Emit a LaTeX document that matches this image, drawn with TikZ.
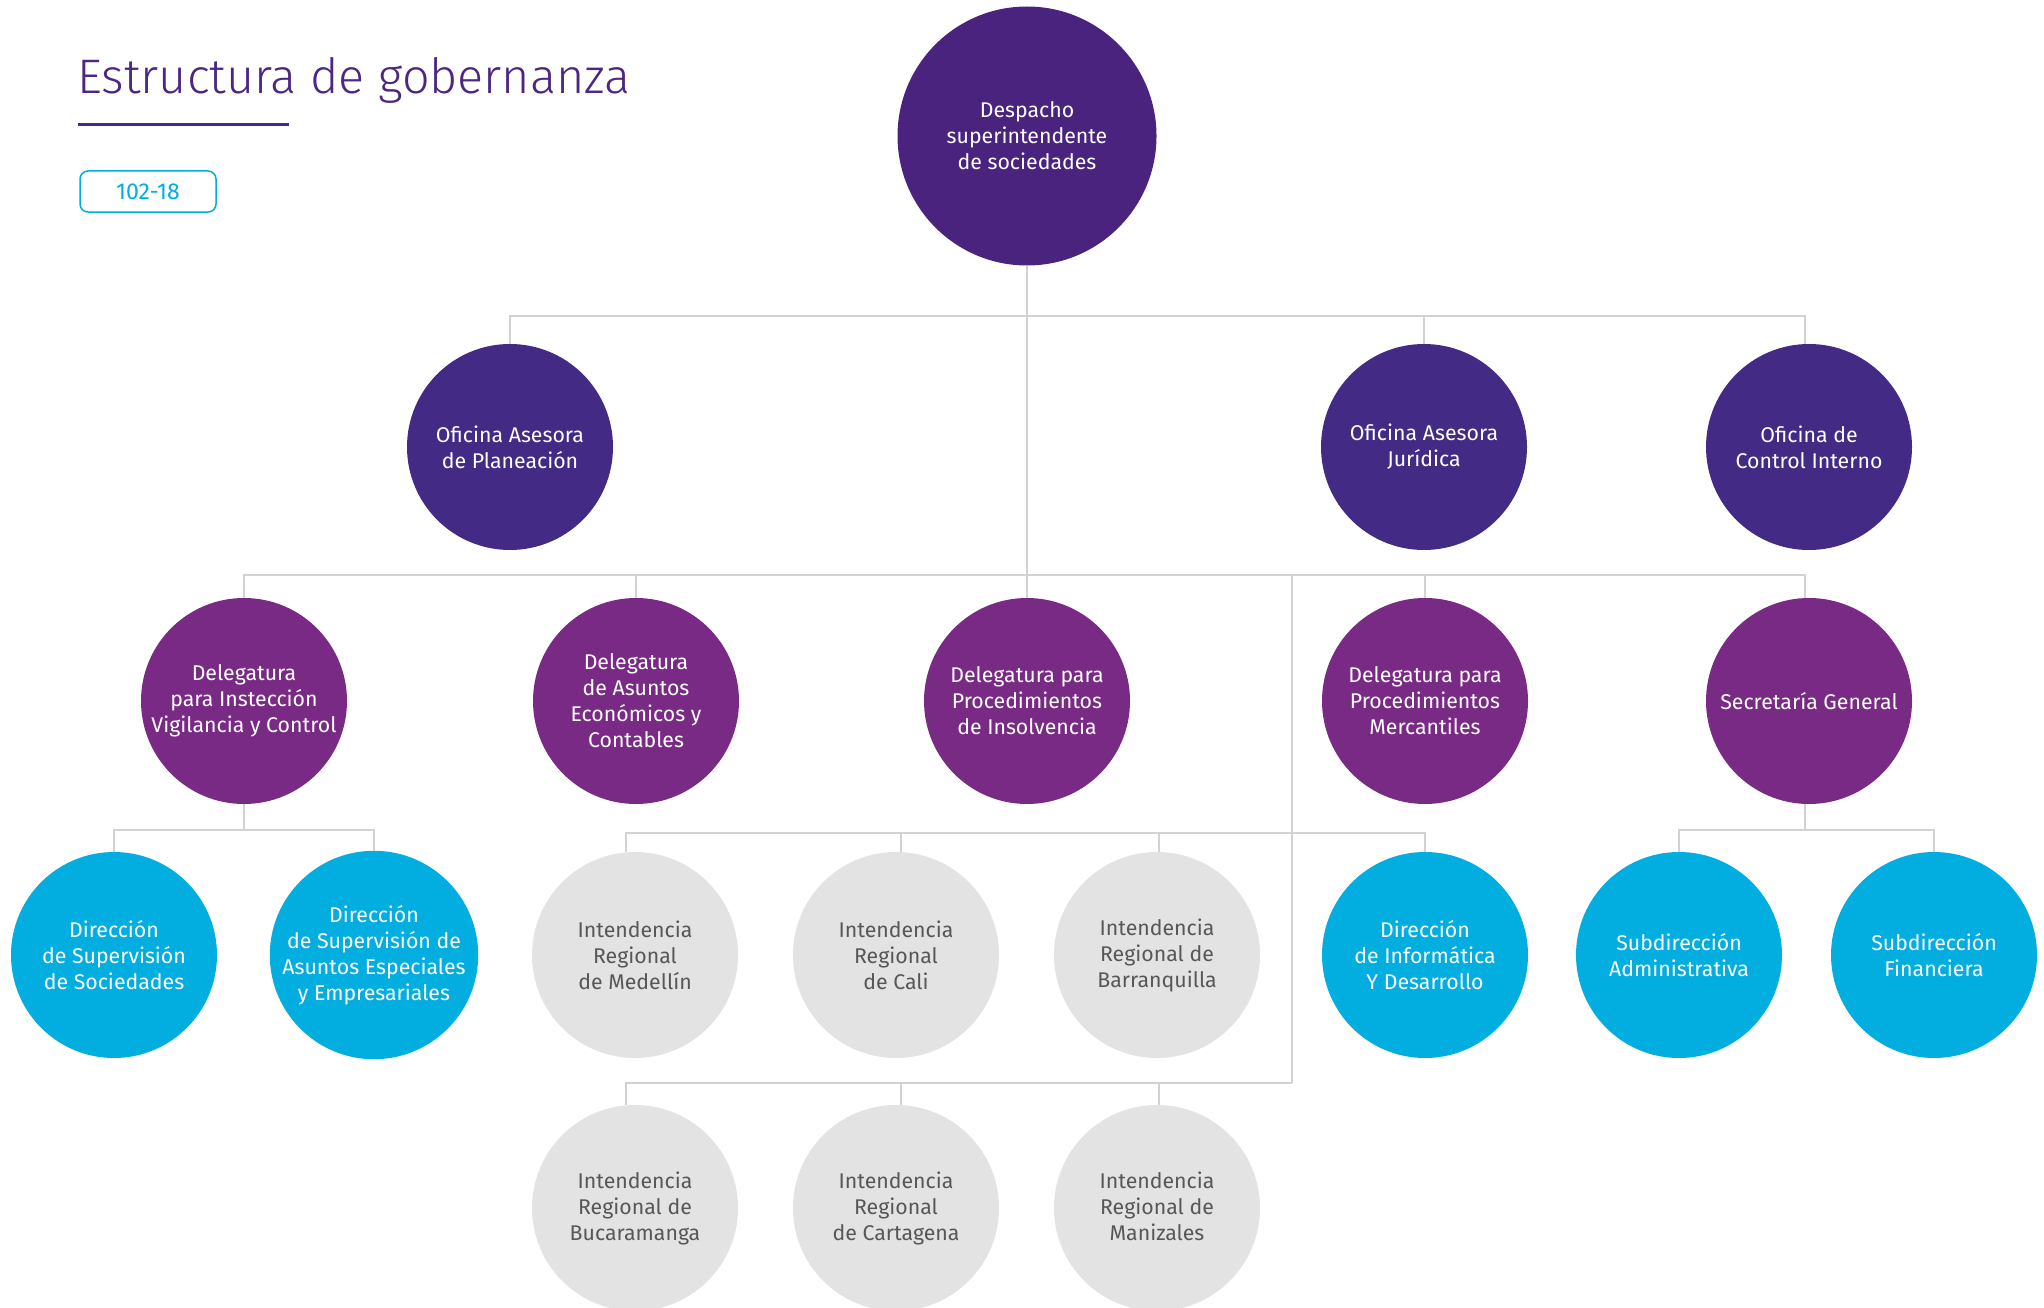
\documentclass[tikz,border=0pt]{standalone}
\usepackage{fontspec}
\setmainfont{Fira Sans}
\newfontfamily\titlefont{Fira Sans Light}
\definecolor{cDesp}{HTML}{4A237E}
\definecolor{cOfi}{HTML}{432A84}
\definecolor{cDel}{HTML}{792A84}
\definecolor{cCyan}{HTML}{02ADE0}
\definecolor{cGrey}{HTML}{E3E3E3}
\definecolor{cGreyTxt}{HTML}{575757}
\definecolor{cLine}{HTML}{D2D2D2}
\definecolor{cTitle}{HTML}{4B2683}
\tikzset{
  org/.style={circle, minimum size=206pt, inner sep=0pt, align=center,
    font=\fontsize{21.3}{26}\selectfont, text=white},
  desp/.style={org, fill=cDesp, minimum size=259pt},
  ofi/.style={org, fill=cOfi},
  dele/.style={org, fill=cDel},
  cyanc/.style={org, fill=cCyan},
  greyc/.style={org, fill=cGrey, text=cGreyTxt},
  conn/.style={draw=cLine, line width=2.5pt},
}
\begin{document}
\begin{tikzpicture}[x=1pt,y=-1pt]
\useasboundingbox[fill=white] (0,0) rectangle (2044,1308);
% title
\node[anchor=base west, inner sep=0pt, text=cTitle, font=\titlefont\fontsize{48.5}{56}\selectfont] (title) at (77,94) {Estructura de gobernanza};
\draw[cTitle, line width=3pt] (78,125) coordinate (ul1) -- (289,125) coordinate (ul2);
\node[draw=cCyan, line width=1.5pt, rounded corners=8pt, minimum width=136pt, minimum height=41pt, inner sep=0pt, text=cCyan, font=\fontsize{23}{26}\selectfont] (badge) at (148,191.5) {102-18};
% bus coordinates
\coordinate (b1) at (0,316);
\coordinate (b2) at (0,575);
\coordinate (b3) at (0,830);
\coordinate (b3i) at (0,833);
\coordinate (j1) at (1292,575);
\coordinate (j2) at (1292,1083);
% nodes
\node[desp] (desp) at (1027,136) {Despacho\\superintendente\\de sociedades};
\node[ofi] (plan) at (510,447) {Oficina Asesora\\de Planeación};
\node[ofi] (jur) at (1424,447) {Oficina Asesora\\Jurídica};
\node[ofi] (ctrl) at (1809,447) {Oficina de\\Control Interno};
\node[dele] (insp) at (244,701) {Delegatura\\para Instección\\Vigilancia y Control};
\node[dele] (econ) at (636,701) {Delegatura\\de Asuntos\\Económicos y\\Contables};
\node[dele] (insol) at (1027,701) {Delegatura para\\Procedimientos\\de Insolvencia};
\node[dele] (merc) at (1425,701) {Delegatura para\\Procedimientos\\Mercantiles};
\node[dele] (secg) at (1809,701) {Secretaría General};
\node[cyanc] (dsoc) at (114,955) {Dirección\\de Supervisión\\de Sociedades};
\node[cyanc] (desp2) at (374,955) {Dirección\\de Supervisión de\\Asuntos Especiales\\y Empresariales};
\node[greyc] (med) at (635,955) {Intendencia\\Regional\\de Medellín};
\node[greyc] (cali) at (896,955) {Intendencia\\Regional\\de Cali};
\node[greyc] (barr) at (1157,955) {Intendencia\\Regional de\\Barranquilla\vphantom{l}};
\node[cyanc] (info) at (1425,955) {Dirección\\de Informática\\Y Desarrollo};
\node[cyanc] (sadm) at (1679,955) {Subdirección\\Administrativa};
\node[cyanc] (sfin) at (1934,955) {Subdirección\\Financiera};
\node[greyc] (buc) at (635,1208) {Intendencia\\Regional de\\Bucaramanga};
\node[greyc] (cart) at (896,1208) {Intendencia\\Regional\\de Cartagena};
\node[greyc] (mani) at (1157,1208) {Intendencia\\Regional de\\Manizales\vphantom{g}};
% connectors
\draw[conn] (desp.south) -- (insol.north);
\draw[conn] (plan.north) -- (plan.north |- b1) -- ([xshift=-4pt]ctrl.north |- b1) -- ([xshift=-4pt]ctrl.north);
\draw[conn] (jur.north) -- (jur.north |- b1);
\draw[conn] (insp.north) -- (insp.north |- b2) -- ([xshift=-4pt]secg.north |- b2) -- ([xshift=-4pt]secg.north);
\draw[conn] (econ.north) -- (econ.north |- b2);
\draw[conn] (merc.north) -- (merc.north |- b2);
\draw[conn] (j1) -- (j2);
\draw[conn] (insp.south) -- (insp.south |- b3);
\draw[conn] (dsoc.north) -- (dsoc.north |- b3) -- (desp2.north |- b3) -- (desp2.north);
\draw[conn] ([xshift=-9pt]med.north) -- ([xshift=-9pt]med.north |- b3i) -- (info.north |- b3i) -- (info.north);
\draw[conn] ([xshift=5pt]cali.north) -- ([xshift=5pt]cali.north |- b3i);
\draw[conn] ([xshift=2pt]barr.north) -- ([xshift=2pt]barr.north |- b3i);
\draw[conn] ([xshift=-9pt]buc.north) -- ([xshift=-9pt]buc.north |- j2) -- (j2);
\draw[conn] ([xshift=5pt]cart.north) -- ([xshift=5pt]cart.north |- j2);
\draw[conn] ([xshift=2pt]mani.north) -- ([xshift=2pt]mani.north |- j2);
\draw[conn] ([xshift=-4pt]secg.south) -- ([xshift=-4pt]secg.south |- b3);
\draw[conn] (sadm.north) -- (sadm.north |- b3) -- (sfin.north |- b3) -- (sfin.north);
\end{tikzpicture}
\end{document}
